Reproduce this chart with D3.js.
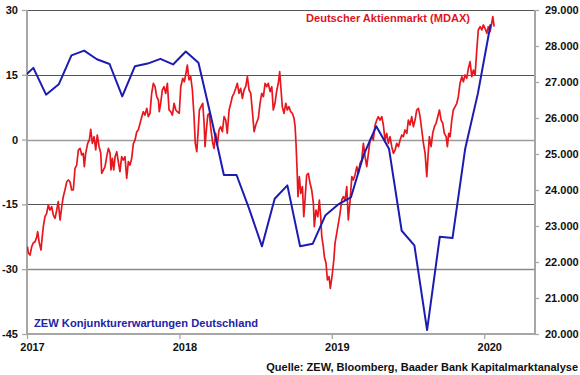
<!DOCTYPE html>
<html><head><meta charset="utf-8">
<script src="https://cdn.jsdelivr.net/npm/d3@7"></script>
<style>
html,body{margin:0;padding:0;background:#fff;}
svg{display:block;font-family:"Liberation Sans",Arial,sans-serif;font-weight:bold;}
</style></head>
<body><svg id="c" width="580" height="375"></svg>
<script>
// ---- DATA ----
const leftTicks = [30, 15, 0, -15, -30, -45];
const rightTicks = [29000, 28000, 27000, 26000, 25000, 24000, 23000, 22000, 21000, 20000];
const yearTicks = [2017, 2018, 2019, 2020];

// ZEW economic sentiment (monthly, plotted mid-month)
const zewMonths = ["2016-12","2017-01","2017-02","2017-03","2017-04","2017-05","2017-06","2017-07","2017-08","2017-09","2017-10","2017-11","2017-12",
  "2018-01","2018-02","2018-03","2018-04","2018-05","2018-06","2018-07","2018-08","2018-09","2018-10","2018-11","2018-12",
  "2019-01","2019-02","2019-03","2019-04","2019-05","2019-06","2019-07","2019-08","2019-09","2019-10","2019-11","2019-12","2020-01"];
const zewValues = [13.8,16.6,10.4,12.8,19.5,20.6,18.6,17.5,10.0,17.0,17.6,18.7,17.4,
  20.4,17.8,5.1,-8.2,-8.2,-16.1,-24.7,-13.7,-10.6,-24.7,-24.1,-17.5,
  -15.0,-13.4,-3.6,3.1,-2.1,-21.1,-24.5,-44.1,-22.5,-22.8,-2.1,10.7,26.7];

// MDAX: time in years since 1 Jan 2017, index level
const mdaxYears = [0.003,0.009,0.020,0.031,0.041,0.053,0.064,0.070,0.079,0.092,0.100,0.107,0.118,0.129,0.140,0.151,0.162,0.173,0.184,0.195,0.205,0.217,0.228,0.238,0.249,0.261,0.271,0.282,0.293,0.304,0.315,0.326,0.337,0.348,0.359,0.369,0.376,0.385,0.398,0.409,0.418,0.429,0.440,0.451,0.461,0.473,0.484,0.490,0.501,0.512,0.523,0.534,0.545,0.551,0.560,0.569,0.578,0.589,0.599,0.610,0.621,0.632,0.643,0.654,0.665,0.676,0.687,0.698,0.709,0.720,0.730,0.742,
  0.753,0.763,0.774,0.786,0.796,0.807,0.818,0.829,0.840,0.851,0.862,0.868,0.877,0.888,0.899,0.910,0.921,0.932,0.943,0.954,0.965,0.976,0.986,0.999,1.009,1.022,1.032,1.043,1.052,1.063,1.074,1.085,1.096,1.104,1.114,1.122,1.131,1.142,1.153,1.162,1.168,1.175,1.186,1.196,1.207,1.219,1.227,1.238,1.249,1.260,1.271,1.282,1.293,1.304,1.314,1.326,1.337,1.347,1.358,1.370,1.380,1.391,1.402,1.413,1.424,1.435,1.446,1.457,1.468,1.478,1.490,1.501,
  1.518,1.529,1.540,1.551,1.562,1.573,1.583,1.595,1.606,1.616,1.627,1.639,1.649,1.658,1.667,1.675,1.686,1.698,1.708,1.719,1.730,1.741,1.752,1.759,1.765,1.772,1.778,1.787,1.796,1.807,1.816,1.824,1.835,1.846,1.857,1.868,1.879,1.885,1.896,1.908,1.918,1.927,1.934,1.944,1.951,1.962,1.971,1.982,1.990,2.001,2.013,2.021,2.032,2.043,2.054,2.065,2.076,2.087,2.098,2.108,2.120,2.131,2.141,2.152,2.164,2.174,2.185,2.196,2.207,2.218,2.229,2.240,2.251,2.262,
  2.272,2.284,2.295,2.305,2.316,2.328,2.338,2.349,2.360,2.371,2.382,2.393,2.404,2.415,2.426,2.437,2.448,2.459,2.469,2.480,2.492,2.502,2.513,2.524,2.535,2.546,2.557,2.568,2.579,2.590,2.601,2.612,2.623,2.631,2.640,2.651,2.662,2.673,2.684,2.695,2.706,2.717,2.728,2.738,2.750,2.758,2.767,2.776,2.787,2.797,2.809,2.820,2.830,2.841,2.853,2.863,2.874,2.885,2.896,2.907,2.918,2.929,2.940,2.951,2.961,2.973,2.984,2.994,3.005,3.017,3.027,3.038,3.049,3.056,3.065];
const mdaxValues = [22425,22250,22194,22425,22527,22564,22702,22841,22564,22333,22702,22980,23258,23353,23583,23444,23536,23305,23214,23444,23675,23166,23536,23814,24000,24230,24278,24230,24000,24000,24603,24694,25111,25158,24972,25019,24647,25019,25297,25389,25686,25297,25480,25111,25528,25203,25019,24464,24555,24647,24925,25158,25019,24555,24880,24555,24925,25064,24786,24508,24925,24833,24925,24325,24786,24694,24880,25297,25389,25619,25667,25853,
  26036,26175,26083,26269,26036,26130,26686,26964,26869,26592,26500,26175,26408,26778,26869,26686,26964,26222,26175,26083,26408,26222,26175,26130,26869,27103,27008,27242,27472,27056,27147,26778,26036,25297,25064,25575,26222,26314,26408,25853,25203,25575,26083,26130,25667,25297,25158,25575,25250,25667,25758,25619,26036,25944,25575,26222,26408,26592,26686,26825,26964,26686,26825,26547,26778,26869,27147,26778,26686,26222,25619,25806,
  26000,26408,26686,26592,26964,26869,26964,26731,26869,26222,26408,26778,26964,27286,26778,26314,26130,26408,26222,26314,26175,26130,25992,25758,25297,24555,23814,24369,23908,24092,23258,23722,24417,24464,24186,24000,23630,22980,23444,23258,23722,23258,22702,22425,22147,21964,21500,21591,21269,21591,22055,22527,22797,23075,23353,23722,23814,23722,24092,23166,23722,24369,24278,24417,24647,24464,24742,24833,25297,24925,24647,25019,25389,25480,
  25389,25806,25944,26036,25944,26036,25806,25389,25575,25297,25480,25203,25019,25111,25297,25203,25389,25528,25480,25667,25575,25944,25806,26036,25758,25944,26222,26269,26036,25667,25297,25019,24369,24925,25480,25203,25575,25758,25853,26036,26222,25944,25853,25575,25480,25203,25575,25480,25944,26222,26314,26408,26592,26964,27147,27008,27195,27103,27381,27564,27147,27333,27195,27889,28445,28536,28445,28584,28492,28353,28536,28397,28631,28814,28536];

const labelMdax = "Deutscher Aktienmarkt (MDAX)";
const labelZew = "ZEW Konjunkturerwartungen Deutschland";
const source = "Quelle: ZEW, Bloomberg, Baader Bank Kapitalmarktanalyse";

// ---- CHART ----
const RED = "#e8161d", BLUE = "#1c1cb2";
const svg = d3.select("#c");
const L = 27, R = 535, T = 10, B = 334;

const x = d3.scaleLinear().domain([2017, 2020.333]).range([L, R]);
const yL = d3.scaleLinear().domain([-45, 30]).range([B, T]);
const yR = d3.scaleLinear().domain([20000, 29000]).range([B, T]);

svg.append("defs").append("clipPath").attr("id", "plot")
  .append("rect").attr("x", L).attr("y", T - 5).attr("width", R - L).attr("height", B - T + 10);

// gridlines
const gridStyle = {30: ["#555", 1], 15: ["#555", 1], 0: ["#9a9a9a", 1.6], "-15": ["#555", 1], "-30": ["#8a8a8a", 1.4]};
svg.append("g").selectAll("line").data(leftTicks.filter(d => d !== -45)).join("line")
  .attr("x1", L).attr("x2", R)
  .attr("y1", d => Math.round(yL(d)) + 0.5).attr("y2", d => Math.round(yL(d)) + 0.5)
  .attr("stroke", d => gridStyle[d][0]).attr("stroke-width", d => gridStyle[d][1]);

// axes
const axisColor = "#a6a6a6";
const gL = svg.append("g").attr("transform", `translate(${L},0)`)
  .call(d3.axisLeft(yL).tickValues(leftTicks).tickFormat(d => String(d)).tickSize(5).tickPadding(4));
const gR = svg.append("g").attr("transform", `translate(${R},0)`)
  .call(d3.axisRight(yR).tickValues(rightTicks).tickFormat(d => d3.format(",")(d).replace(",", ".")).tickSize(4).tickPadding(6));
const gB = svg.append("g").attr("transform", `translate(0,${B})`)
  .call(d3.axisBottom(x).tickValues(yearTicks).tickFormat(d => String(d)).tickSize(5).tickPadding(4));

[gL, gR, gB].forEach(g => {
  g.select(".domain").attr("stroke", axisColor).attr("stroke-width", 2);
  g.selectAll(".tick line").attr("stroke", axisColor).attr("stroke-width", 1.3);
  g.selectAll(".tick text").attr("fill", "#111").style("font-size", "11px")
    .style("font-family", '"Liberation Sans",Arial,sans-serif').style("font-weight", "bold");
});
gB.selectAll(".tick text").attr("dx", 5);
gB.select(".domain").attr("d", `M${L},0H${R}`);
gL.select(".domain").attr("d", `M0,${T}V${B}`);
gR.select(".domain").attr("d", `M0,${T}V${B}`);

// MDAX line
const mdax = d3.zip(mdaxYears, mdaxValues);
svg.append("path").datum(mdax)
  .attr("clip-path", "url(#plot)")
  .attr("fill", "none").attr("stroke", RED).attr("stroke-width", 1.7).attr("stroke-linejoin", "round")
  .attr("d", d3.line().x(d => x(2017 + d[0])).y(d => yR(d[1])));

// ZEW line
const zew = zewMonths.map((m, i) => {
  const [yy, mm] = m.split("-").map(Number);
  return [yy + (mm - 0.5) / 12, zewValues[i]];
});
svg.append("path").datum(zew)
  .attr("clip-path", "url(#plot)")
  .attr("fill", "none").attr("stroke", BLUE).attr("stroke-width", 2).attr("stroke-linejoin", "round")
  .attr("d", d3.line().x(d => x(d[0])).y(d => yL(d[1])));

// labels
svg.append("text").attr("x", 306).attr("y", 22).attr("fill", "#e3141c")
  .style("font-size", "11.5px").attr("textLength", 164).attr("lengthAdjust", "spacingAndGlyphs").text(labelMdax);
svg.append("text").attr("x", 34).attr("y", 327).attr("fill", "#2323a8")
  .style("font-size", "11.5px").attr("textLength", 224).attr("lengthAdjust", "spacingAndGlyphs").text(labelZew);
svg.append("text").attr("x", 578).attr("y", 371).attr("text-anchor", "end").attr("fill", "#111")
  .style("font-size", "11px").text(source);
</script></body></html>
